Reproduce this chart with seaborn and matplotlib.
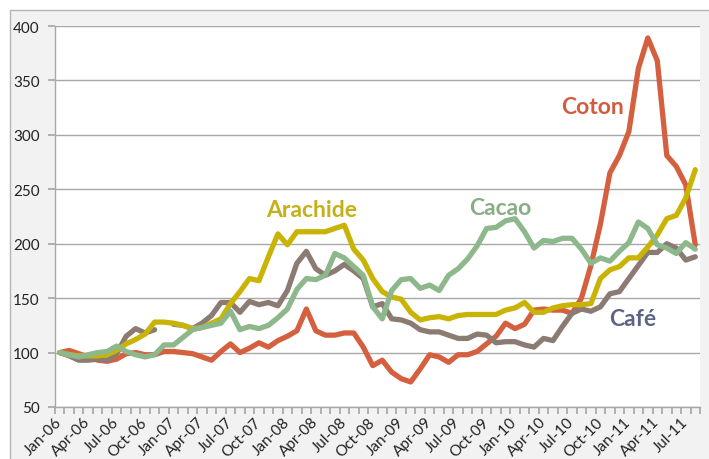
import numpy as np
import pandas as pd
import matplotlib
matplotlib.use("Agg")
import matplotlib.pyplot as plt
import seaborn as sns
from matplotlib.patches import Rectangle

# monthly index values, Jan-06 .. Aug-11 (base 100 = Jan-06)
months = pd.date_range("2006-01-01", periods=68, freq="MS")
month_labels = [m.strftime("%b-%y") for m in months]

coton = [100, 102, 99, 96, 93, 92, 94, 99, 100, 98,
         98, 101, 101, 100, 99, 96, 93, 101, 108, 100,
         104, 109, 105, 111, 115, 120, 140, 120, 116, 116,
         118, 118, 105, 88, 93, 82, 76, 73, 85, 98,
         96, 91, 98, 98, 101, 108, 115, 127, 122, 126,
         139, 140, 139, 139, 136, 150, 180, 218, 265, 281,
         303, 361, 389, 368, 281, 271, 254, 199]

arachide = [100, 98, 97, 97, 97, 98, 102, 108, 112, 117,
            128, 128, 127, 125, 122, 123, 127, 131, 145, 156,
            168, 166, 188, 209, 199, 211, 211, 211, 211, 214,
            217, 195, 185, 168, 156, 151, 149, 137, 130, 132,
            133, 131, 134, 135, 135, 135, 135, 139, 141, 146,
            137, 137, 141, 143, 144, 144, 145, 168, 176, 179,
            187, 187, 197, 208, 223, 226, 242, 268]

cacao = [100, 98, 96, 98, 100, 101, 106, 101, 98, 96,
         98, 107, 107, 114, 121, 123, 125, 127, 138, 121,
         124, 122, 125, 132, 140, 158, 168, 167, 171, 191,
         187, 179, 171, 142, 131, 157, 167, 168, 159, 162,
         157, 171, 177, 186, 198, 214, 215, 221, 223, 211,
         196, 203, 202, 205, 205, 195, 182, 187, 184, 193,
         201, 220, 214, 199, 196, 191, 201, 195]

cafe = [100, 97, 93, 93, 94, 93, 99, 115, 122, 118,
        121, np.nan, 126, 125, 122, 127, 134, 146, 146, 137,
        147, 144, 146, 143, 157, 182, 193, 177, 171, 175,
        181, 175, 168, 142, 145, 131, 130, 127, 121, 119,
        119, 116, 113, 113, 117, 116, 109, 110, 110, 107,
        105, 113, 111, 124, 136, 140, 138, 142, 154, 156,
        168, 180, 192, 192, 200, 196, 185, 188]

series = {"Coton": coton, "Café": cafe, "Arachide": arachide, "Cacao": cacao}
line_colors = {"Coton": "#d5603f", "Café": "#8b7b73",
               "Arachide": "#c9b406", "Cacao": "#8db88b"}

# long form, with a segment id so the gap in Café stays a gap
frames = []
for name, vals in series.items():
    v = np.array(vals, dtype=float)
    frames.append(pd.DataFrame({"idx": np.arange(len(v)), "value": v,
                                "series": name,
                                "seg": np.cumsum(np.isnan(v))}))
df = pd.concat(frames, ignore_index=True).dropna()

sns.set_theme(style="white")
plt.rcParams["font.family"] = ["Lato", "DejaVu Sans"]

fig = plt.figure(figsize=(7.09, 4.60), dpi=100)
fig.patches.append(Rectangle((10 / 709, -0.02), 1.0, 1 - 11 / 460 + 0.02,
                             transform=fig.transFigure, facecolor="#f2f2f2",
                             edgecolor="#b4b4b4", lw=1, zorder=-1))
ax = fig.add_axes([55 / 709, 1 - 408 / 460, 645 / 709, 381 / 460])
ax.set_facecolor("white")

sns.lineplot(data=df, x="idx", y="value", hue="series", units="seg",
             estimator=None, sort=False, palette=line_colors,
             hue_order=list(series.keys()), linewidth=3.8, legend=False,
             solid_joinstyle="round", solid_capstyle="round", ax=ax)

ax.set_xlim(-0.5, 67.5)
ax.set_ylim(50, 400)
ax.set_yticks(np.arange(50, 401, 50))
ax.yaxis.grid(True, color="#a8a8a8", lw=1)
ax.xaxis.grid(False)
ax.set_axisbelow(True)
ax.set_xlabel("")
ax.set_ylabel("")

for s in ["top", "right"]:
    ax.spines[s].set_visible(False)
for s in ["left", "bottom"]:
    ax.spines[s].set_color("#a8a8a8")
    ax.spines[s].set_linewidth(1)

# month boundary ticks, labels every 3 months
ax.set_xticks(np.arange(-0.5, 68, 1))
ax.set_xticklabels([])
ax.set_xticks(np.arange(0, 68, 3), minor=True)
ax.set_xticklabels(month_labels[::3], minor=True, rotation=45,
                   ha="right", va="center", rotation_mode="anchor")
ax.tick_params(axis="x", which="major", length=5, color="#a8a8a8",
               direction="out", bottom=True)
ax.tick_params(axis="x", which="minor", length=0, pad=9, labelsize=11,
               labelcolor="#222222", bottom=True)
ax.tick_params(axis="y", length=5, color="#a8a8a8", direction="out",
               left=True, pad=6, labelsize=11, labelcolor="#222222")

ax.text(26.6, 231, "Arachide", color="#c3b01a", fontsize=16.5,
        fontweight="bold", ha="center", va="center")
ax.text(46.4, 233, "Cacao", color="#89ad87", fontsize=16.5,
        fontweight="bold", ha="center", va="center")
ax.text(56.2, 326, "Coton", color="#d25c3e", fontsize=16.5,
        fontweight="bold", ha="center", va="center")
ax.text(60.4, 131, "Café", color="#5c6486", fontsize=16.5,
        fontweight="bold", ha="center", va="center")

fig.savefig("out.png", dpi=100)
